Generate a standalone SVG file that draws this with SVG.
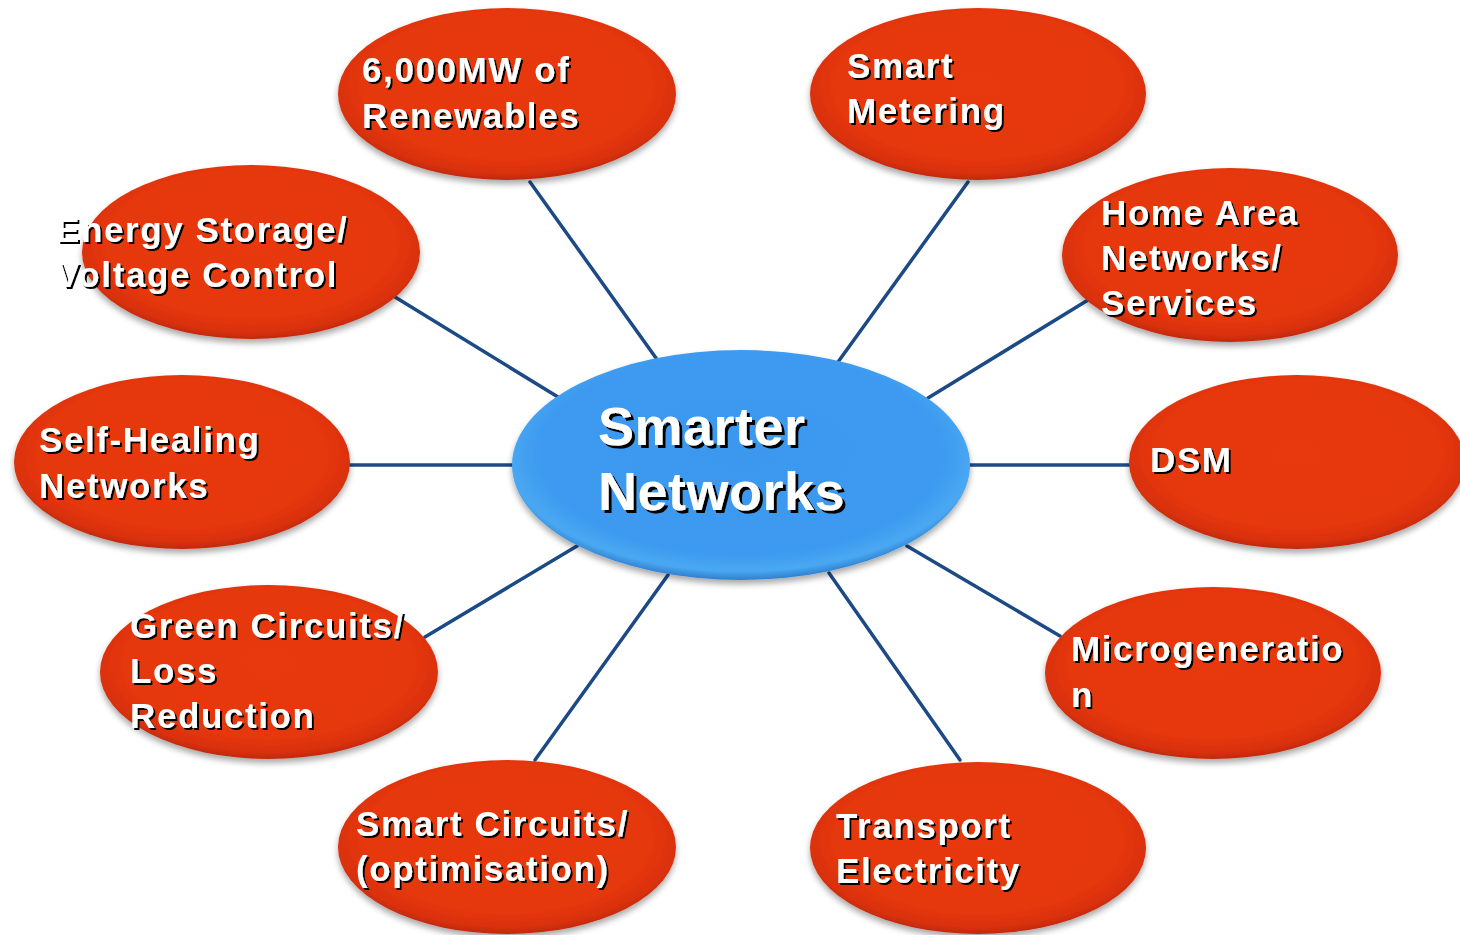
<svg xmlns="http://www.w3.org/2000/svg" width="1460" height="935" viewBox="0 0 1460 935">
<style>
.lbl{font-family:"Liberation Sans",Arial,sans-serif;font-weight:bold;font-size:35px;letter-spacing:1.6px;fill:#fff;filter:url(#ts)}
.big{font-size:54px;letter-spacing:0.5px;filter:url(#tsb)}
.con line{stroke:#1c4a86;stroke-width:3.5;stroke-linecap:round}
.on{fill:url(#og);filter:url(#ds)}
</style>
<defs>
<radialGradient id="og" cx="0.5" cy="0.45" r="0.55">
<stop offset="0" stop-color="#e8390a"/>
<stop offset="0.78" stop-color="#e6370b"/>
<stop offset="0.93" stop-color="#d8300c"/>
<stop offset="1" stop-color="#c02a0e"/>
</radialGradient>
<radialGradient id="bg" cx="0.5" cy="0.45" r="0.55">
<stop offset="0" stop-color="#3b98ee"/>
<stop offset="0.8" stop-color="#3c9af0"/>
<stop offset="0.93" stop-color="#4aa8f2"/>
<stop offset="1" stop-color="#2f7fcf"/>
</radialGradient>
<filter id="ds" x="-10%" y="-10%" width="120%" height="125%">
<feGaussianBlur in="SourceAlpha" stdDeviation="3"/>
<feOffset dx="0" dy="4" result="b"/>
<feComponentTransfer><feFuncA type="linear" slope="0.35"/></feComponentTransfer>
<feMerge><feMergeNode/><feMergeNode in="SourceGraphic"/></feMerge>
</filter>
<filter id="ts" x="-5%" y="-10%" width="115%" height="130%">
<feOffset in="SourceAlpha" dx="2" dy="2" result="o"/>
<feGaussianBlur in="o" stdDeviation="0.5"/>
<feMerge><feMergeNode/><feMergeNode in="SourceGraphic"/></feMerge>
</filter>
<filter id="tsb" x="-5%" y="-10%" width="115%" height="130%">
<feOffset in="SourceAlpha" dx="3" dy="3" result="o"/>
<feGaussianBlur in="o" stdDeviation="0.6"/>
<feMerge><feMergeNode/><feMergeNode in="SourceGraphic"/></feMerge>
</filter>
</defs>
<rect width="1460" height="935" fill="#fff"/>
<g id="connectors" class="con">
<line x1="530" y1="182" x2="656" y2="358"/>
<line x1="968" y1="182" x2="838" y2="362"/>
<line x1="395" y1="297" x2="558" y2="397"/>
<line x1="1088" y1="300" x2="928" y2="398"/>
<line x1="350" y1="465" x2="512" y2="465"/>
<line x1="970" y1="465" x2="1130" y2="465"/>
<line x1="425" y1="637" x2="577" y2="546"/>
<line x1="907" y1="546" x2="1060" y2="636"/>
<line x1="535" y1="760" x2="668" y2="575"/>
<line x1="960" y1="760" x2="829" y2="573"/>
</g>
<g id="n-renewables">
<ellipse class="on" cx="507" cy="94" rx="169" ry="86"/>
<text class="lbl" x="362" y="82">6,000MW of<tspan x="362" dy="46">Renewables</tspan></text>
</g>
<g id="n-metering">
<ellipse class="on" cx="978" cy="94" rx="168" ry="86"/>
<text class="lbl" x="847" y="78">Smart<tspan x="847" dy="45">Metering</tspan></text>
</g>
<g id="n-storage">
<ellipse class="on" cx="251" cy="252" rx="169" ry="87"/>
<text class="lbl" x="56" y="242">Energy Storage/<tspan x="56" dy="45">Voltage Control</tspan></text>
</g>
<g id="n-home">
<ellipse class="on" cx="1230" cy="255" rx="168" ry="87"/>
<text class="lbl" x="1101" y="225">Home Area<tspan x="1101" dy="45">Networks/</tspan><tspan x="1101" dy="45">Services</tspan></text>
</g>
<g id="n-selfhealing">
<ellipse class="on" cx="182" cy="462" rx="168" ry="87"/>
<text class="lbl" x="39" y="452">Self-Healing<tspan x="39" dy="46">Networks</tspan></text>
</g>
<g id="n-dsm">
<ellipse class="on" cx="1297" cy="462" rx="168" ry="87"/>
<text class="lbl" x="1150" y="472">DSM</text>
</g>
<g id="n-green">
<ellipse class="on" cx="269" cy="672" rx="169" ry="87"/>
<text class="lbl" x="130" y="638">Green Circuits/<tspan x="130" dy="45">Loss</tspan><tspan x="130" dy="45">Reduction</tspan></text>
</g>
<g id="n-micro">
<ellipse class="on" cx="1213" cy="673" rx="168" ry="86"/>
<text class="lbl" x="1071" y="661">Microgeneratio<tspan x="1071" dy="46">n</tspan></text>
</g>
<g id="n-smartcircuits">
<ellipse class="on" cx="507" cy="847" rx="169" ry="87"/>
<text class="lbl" x="356" y="836">Smart Circuits/<tspan x="356" dy="45">(optimisation)</tspan></text>
</g>
<g id="n-transport">
<ellipse class="on" cx="978" cy="848" rx="168" ry="86"/>
<text class="lbl" x="836" y="838">Transport<tspan x="836" dy="45">Electricity</tspan></text>
</g>
<g id="n-center">
<ellipse cx="741" cy="465" rx="229" ry="115" fill="url(#bg)" filter="url(#ds)"/>
<text class="lbl big" x="598" y="445">Smarter<tspan x="598" dy="65">Networks</tspan></text>
</g>
</svg>
